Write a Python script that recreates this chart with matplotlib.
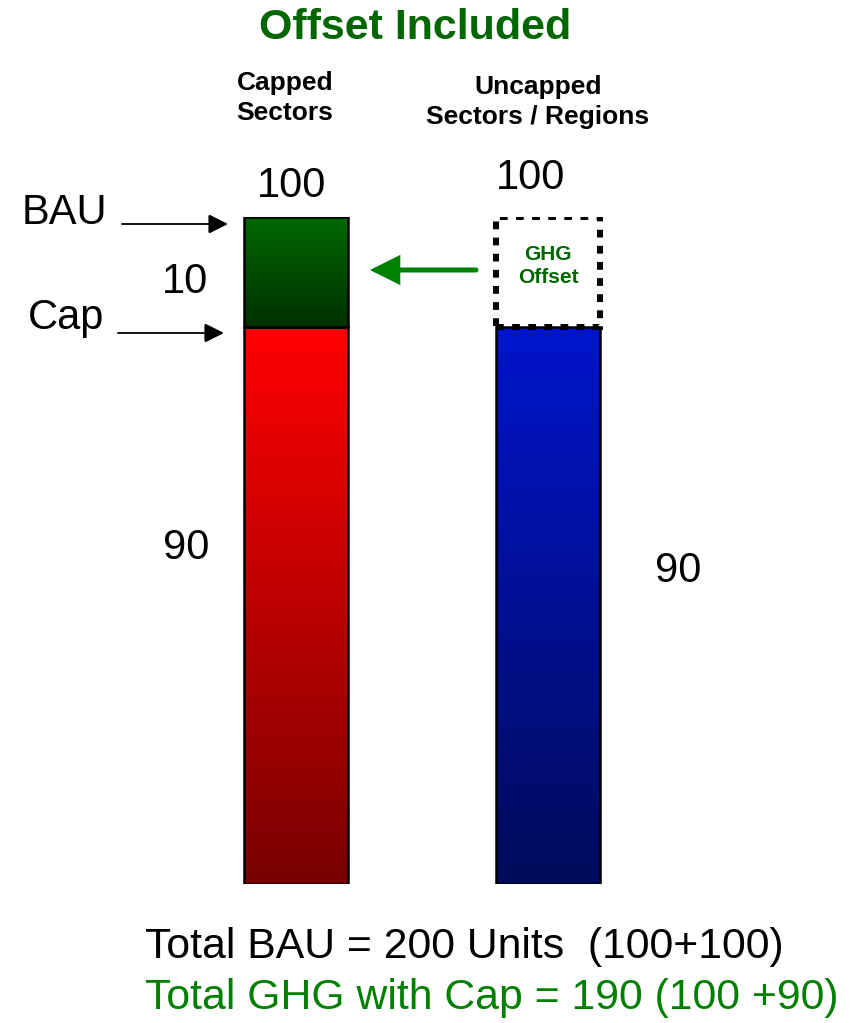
import numpy as np
import matplotlib
matplotlib.use("Agg")
import matplotlib.pyplot as plt
from matplotlib.colors import LinearSegmentedColormap

plt.rcParams['font.family'] = ['Liberation Sans', 'DejaVu Sans']

# data
categories = ['Capped\nSectors', 'Uncapped\nSectors / Regions']
base_values = [90, 90]      # capped emissions / uncapped emissions
top_values = [10, 10]       # reduction (capped) / GHG offset (uncapped)
bau_totals = [100, 100]
total_bau = 200
total_cap = 190

W, H = 852, 1023
fig = plt.figure(figsize=(W / 100, H / 100), dpi=100)

def fx(x):
    return x / W

def fy(y):
    return 1 - y / H

# schematic y scale: top 10 units drawn larger than the 90 below
stretch = 1.786
def fwd(v):
    v = np.asarray(v, dtype=float)
    return np.where(v <= 90, v, 90 + (v - 90) * stretch)

def inv(u):
    u = np.asarray(u, dtype=float)
    return np.where(u <= 90, u, 90 + (u - 90) / stretch)

bar_bottom_px, bar_top_px = 884, 216.5
ax = fig.add_axes([0, fy(bar_bottom_px), 1, (bar_bottom_px - bar_top_px) / H])
ax.set_yscale('function', functions=(fwd, inv))
ax.set_ylim(0, 100)
# bar centres at 296 px and 548 px
unit = 252.0
ax.set_xlim(-296 / unit, (W - 296) / unit)
ax.axis('off')

width = 104 / unit
x = np.arange(len(categories))

def gradient_bar(xc, y0, y1, c_bottom, c_top):
    cmap = LinearSegmentedColormap.from_list('g', [c_bottom, c_top])
    ys = np.linspace(y0, y1, 200)
    C = np.linspace(0, 1, 199).reshape(-1, 1)
    ax.pcolormesh([xc - width / 2, xc + width / 2], ys, C, cmap=cmap,
                  shading='flat', rasterized=True)
    ax.bar(xc, y1 - y0, bottom=y0, width=width, fill=False,
           edgecolor='black', linewidth=1.8)

# capped sectors: red base, green reduction on top
gradient_bar(x[0], 0, base_values[0], '#780000', '#ff0000')
gradient_bar(x[0], base_values[0], base_values[0] + top_values[0], '#003000', '#006800')
# uncapped sectors: blue base, dotted offset box
gradient_bar(x[1], 0, base_values[1], '#000a5a', '#0014cc')
ax.bar(x[1], top_values[1], bottom=base_values[1], width=width, fill=False,
       edgecolor='black', linewidth=4.3, linestyle=(0, (1.3, 1.4)))

# titles
fig.text(fx(415), fy(28), 'Offset Included', color='#006600', fontsize=31,
         fontweight='bold', ha='center', va='center')
fig.text(fx(285), fy(98), categories[0], fontsize=19, fontweight='bold',
         ha='center', va='center', linespacing=1.35)
fig.text(fx(538), fy(102), categories[1], fontsize=19, fontweight='bold',
         ha='center', va='center', linespacing=1.35)

# value labels
fig.text(fx(292), fy(186), str(bau_totals[0]), fontsize=30, ha='center', va='center')
fig.text(fx(531), fy(178), str(bau_totals[1]), fontsize=30, ha='center', va='center')
fig.text(fx(185), fy(282), str(top_values[0]), fontsize=30, ha='center', va='center')
fig.text(fx(186), fy(548), str(base_values[0]), fontsize=30, ha='center', va='center')
fig.text(fx(678), fy(571), str(base_values[1]), fontsize=30, ha='center', va='center')
fig.text(fx(22), fy(213), 'BAU', fontsize=30, ha='left', va='center')
fig.text(fx(28), fy(318), 'Cap', fontsize=30, ha='left', va='center')
fig.text(fx(548), fy(266), 'GHG\nOffset', color='#006600', fontsize=15,
         fontweight='bold', ha='center', va='center', linespacing=1.3)

# arrows
def arrow(x0, x1, y, color, lw, style):
    fig.add_artist(matplotlib.patches.FancyArrowPatch(
        (fx(x0), fy(y)), (fx(x1), fy(y)), transform=fig.transFigure,
        arrowstyle=style, color=color, lw=lw, mutation_scale=20,
        shrinkA=0, shrinkB=0, joinstyle='miter'))

arrow(122, 228, 224, 'black', 1.3, '-|>,head_length=0.6,head_width=0.3')
arrow(118, 224, 333, 'black', 1.3, '-|>,head_length=0.6,head_width=0.3')
arrow(476, 370, 270, '#008000', 3.6, '-|>,head_length=0.8,head_width=0.4')

# totals
fig.text(fx(145), fy(947), 'Total BAU = %d Units  (%d+%d)' % (total_bau, bau_totals[0], bau_totals[1]),
         fontsize=30.8, ha='left', va='center')
fig.text(fx(145), fy(998), 'Total GHG with Cap = %d (%d +%d)' % (total_cap, bau_totals[0], base_values[1]),
         fontsize=30.8, color='#008000', ha='left', va='center')

fig.savefig('out.png', dpi=100)
